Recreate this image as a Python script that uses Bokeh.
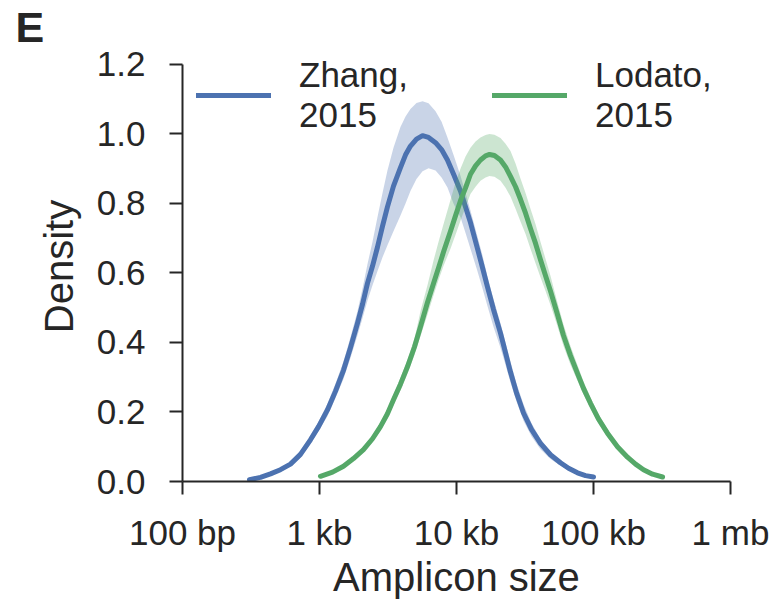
from bokeh.plotting import figure
from bokeh.models import Range1d, FixedTicker, PrintfTickFormatter, Legend, LegendItem
from bokeh.embed import file_html
from bokeh.resources import INLINE

# ---- data ----
# amplicon sizes are given as log10(bp)
zhang_log10_size = [2.489, 2.569, 2.642, 2.715, 2.788, 2.861, 2.934, 2.993, 3.058, 3.117,
                    3.175, 3.226, 3.277, 3.314, 3.350, 3.387, 3.423, 3.460, 3.496, 3.540,
                    3.591, 3.628, 3.664, 3.708, 3.752, 3.796, 3.847, 3.891, 3.934, 3.978,
                    4.029, 4.066, 4.102, 4.153, 4.190, 4.226, 4.270, 4.321, 4.358, 4.394,
                    4.438, 4.489, 4.547, 4.613, 4.686, 4.759, 4.818, 4.883, 4.942, 5.000]
zhang_density = [0.005, 0.012, 0.022, 0.034, 0.05, 0.078, 0.12, 0.158, 0.206, 0.26,
                 0.32, 0.385, 0.455, 0.51, 0.57, 0.62, 0.674, 0.735, 0.79, 0.85,
                 0.903, 0.94, 0.965, 0.985, 0.995, 0.99, 0.975, 0.955, 0.925, 0.885,
                 0.836, 0.79, 0.745, 0.67, 0.615, 0.56, 0.495, 0.427, 0.37, 0.315,
                 0.255, 0.197, 0.15, 0.11, 0.077, 0.054, 0.038, 0.025, 0.017, 0.013]
zhang_upper = [0.007, 0.015, 0.027, 0.04, 0.057, 0.088, 0.132, 0.172, 0.224, 0.282,
               0.345, 0.415, 0.49, 0.555, 0.625, 0.69, 0.76, 0.83, 0.895, 0.96,
               1.02, 1.05, 1.072, 1.089, 1.094, 1.088, 1.065, 1.035, 0.99, 0.94,
               0.88, 0.83, 0.78, 0.705, 0.65, 0.59, 0.525, 0.455, 0.40, 0.345,
               0.282, 0.222, 0.168, 0.122, 0.086, 0.06, 0.042, 0.028, 0.019, 0.014]
zhang_lower = [0.003, 0.009, 0.017, 0.028, 0.043, 0.068, 0.108, 0.145, 0.188, 0.24,
               0.295, 0.355, 0.42, 0.47, 0.52, 0.565, 0.605, 0.645, 0.68, 0.72,
               0.765, 0.80, 0.836, 0.87, 0.893, 0.901, 0.895, 0.875, 0.846, 0.80,
               0.76, 0.715, 0.67, 0.605, 0.555, 0.505, 0.445, 0.385, 0.335, 0.285,
               0.23, 0.175, 0.13, 0.093, 0.065, 0.045, 0.032, 0.021, 0.015, 0.011]

lodato_log10_size = [3.007, 3.095, 3.175, 3.248, 3.321, 3.387, 3.445, 3.496, 3.540, 3.591,
                     3.642, 3.693, 3.737, 3.788, 3.832, 3.869, 3.905, 3.956, 3.993, 4.029,
                     4.066, 4.102, 4.139, 4.175, 4.212, 4.241, 4.277, 4.321, 4.358, 4.394,
                     4.431, 4.467, 4.504, 4.540, 4.577, 4.613, 4.650, 4.686, 4.730, 4.781,
                     4.832, 4.883, 4.927, 4.978, 5.036, 5.102, 5.175, 5.248, 5.307, 5.365,
                     5.431, 5.504]
lodato_density = [0.015, 0.027, 0.044, 0.066, 0.092, 0.123, 0.158, 0.195, 0.235, 0.28,
                  0.33, 0.387, 0.445, 0.515, 0.57, 0.615, 0.66, 0.72, 0.765, 0.808,
                  0.845, 0.884, 0.908, 0.925, 0.937, 0.941, 0.938, 0.925, 0.905, 0.878,
                  0.848, 0.812, 0.772, 0.728, 0.685, 0.638, 0.592, 0.548, 0.49, 0.42,
                  0.362, 0.311, 0.268, 0.225, 0.18, 0.139, 0.10, 0.07, 0.05, 0.034,
                  0.021, 0.013]
lodato_upper = [0.018, 0.031, 0.05, 0.073, 0.10, 0.133, 0.17, 0.208, 0.25, 0.298,
                0.35, 0.41, 0.49, 0.565, 0.635, 0.69, 0.74, 0.81, 0.86, 0.90,
                0.935, 0.96, 0.978, 0.99, 0.997, 1.0, 0.998, 0.988, 0.972, 0.951,
                0.915, 0.872, 0.83, 0.785, 0.74, 0.69, 0.64, 0.592, 0.525, 0.452,
                0.39, 0.335, 0.288, 0.242, 0.194, 0.15, 0.109, 0.077, 0.055, 0.037,
                0.023, 0.014]
lodato_lower = [0.012, 0.023, 0.038, 0.059, 0.084, 0.113, 0.146, 0.182, 0.22, 0.262,
                0.31, 0.364, 0.418, 0.48, 0.535, 0.58, 0.62, 0.67, 0.71, 0.75,
                0.79, 0.827, 0.848, 0.865, 0.875, 0.879, 0.877, 0.865, 0.845, 0.82,
                0.785, 0.748, 0.712, 0.67, 0.628, 0.588, 0.548, 0.508, 0.455, 0.39,
                0.336, 0.29, 0.25, 0.21, 0.167, 0.128, 0.092, 0.064, 0.046, 0.031,
                0.02, 0.012]

series_names = ["Zhang,\n2015", "Lodato,\n2015"]
x_tick_values = [100, 1000, 10000, 100000, 1000000]
x_tick_labels = ["100 bp", "1 kb", "10 kb", "100 kb", "1 mb"]
y_tick_values = [0.0, 0.2, 0.4, 0.6, 0.8, 1.0, 1.2]

for arr in (zhang_density, zhang_upper, zhang_lower):
    assert len(arr) == len(zhang_log10_size)
for arr in (lodato_density, lodato_upper, lodato_lower):
    assert len(arr) == len(lodato_log10_size)

zhang_size = [10 ** v for v in zhang_log10_size]
lodato_size = [10 ** v for v in lodato_log10_size]

BLUE = "#4C72B0"
GREEN = "#55A868"
DARK = "#262626"
FONT = "Liberation Sans"

# frame reaches a little above 1.2 so the legend sits inside it; the axis line stops at 1.2
Y_TOP = 1.2372
p = figure(width=776, height=601, x_axis_type="log",
           x_range=Range1d(1e2, 1e6), y_range=Range1d(0, Y_TOP),
           output_backend="svg", toolbar_location=None,
           min_border_left=182, min_border_right=46, min_border_top=50,
           min_border_bottom=119)
p.outline_line_color = None
p.xgrid.visible = False
p.ygrid.visible = False
p.background_fill_color = "white"
p.border_fill_color = "white"

p.title.text = "E"
p.title.align = "left"
p.title.offset = -167
p.title.standoff = 1
p.title.text_font = FONT
p.title.text_font_size = "43px"
p.title.text_font_style = "bold"
p.title.text_color = DARK

p.varea(x=zhang_size, y1=zhang_lower, y2=zhang_upper, fill_color=BLUE, fill_alpha=0.3)
r1 = p.line(zhang_size, zhang_density, line_color=BLUE, line_width=5, line_cap="round",
            line_join="round")
p.varea(x=lodato_size, y1=lodato_lower, y2=lodato_upper, fill_color=GREEN, fill_alpha=0.3)
r2 = p.line(lodato_size, lodato_density, line_color=GREEN, line_width=5, line_cap="round",
            line_join="round")

for ax in (p.xaxis[0], p.yaxis[0]):
    ax.axis_line_color = DARK
    ax.axis_line_width = 2
    ax.major_tick_line_color = DARK
    ax.major_tick_line_width = 2
    ax.major_tick_out = 13
    ax.major_tick_in = 0
    ax.minor_tick_line_color = None
    ax.major_label_text_font = FONT
    ax.major_label_text_font_size = "35px"
    ax.major_label_text_color = DARK
    ax.axis_label_text_font = FONT
    ax.axis_label_text_font_style = "normal"
    ax.axis_label_text_color = DARK
    ax.axis_label_text_font_size = "40px"

p.xaxis.ticker = FixedTicker(ticks=x_tick_values)
p.xaxis.major_label_overrides = dict(zip(x_tick_values, x_tick_labels))
p.xaxis.major_label_standoff = 18
p.xaxis.axis_label = "Amplicon size"
p.xaxis.axis_label_standoff = 0

p.yaxis.ticker = FixedTicker(ticks=y_tick_values)
p.yaxis.bounds = (y_tick_values[0], y_tick_values[-1])
p.yaxis.formatter = PrintfTickFormatter(format="%.1f")
p.yaxis.major_label_standoff = 24
p.yaxis.axis_label = "Density"
p.yaxis.axis_label_standoff = 13

legend = Legend(items=[LegendItem(label=series_names[0], renderers=[r1]),
                       LegendItem(label=series_names[1], renderers=[r2])],
                orientation="horizontal", location=(14, 345),
                glyph_width=75, glyph_height=82, label_standoff=28,
                label_width=193, spacing=0, padding=0, margin=0,
                label_text_font=FONT, label_text_font_size="35px",
                label_text_color=DARK, label_text_line_height=1.05,
                background_fill_alpha=0, border_line_alpha=0)
p.add_layout(legend)

open("out.html", "w").write(file_html(p, INLINE))
